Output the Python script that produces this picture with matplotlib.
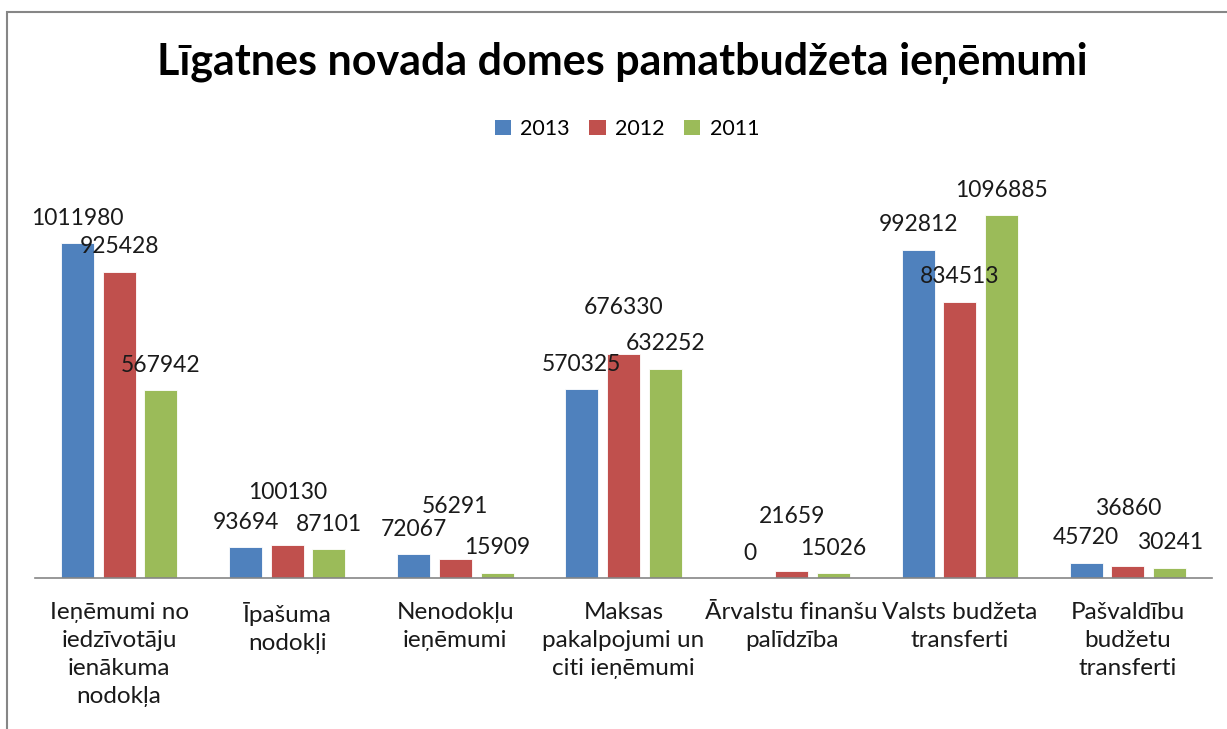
import matplotlib
matplotlib.use("Agg")
import matplotlib.pyplot as plt
from matplotlib.patches import Rectangle, Patch
import numpy as np

plt.rcParams['font.family'] = ['Lato', 'DejaVu Sans']

categories = [
    "Ieņēmumi no\niedzīvotāju\nienākuma\nnodokļa",
    "Īpašuma\nnodokļi",
    "Nenodokļu\nieņēmumi",
    "Maksas\npakalpojumi un\nciti ieņēmumi",
    "Ārvalstu finanšu\npalīdzība",
    "Valsts budžeta\ntransferti",
    "Pašvaldību\nbudžetu\ntransferti",
]
series_names = ["2013", "2012", "2011"]
values_2013 = [1011980, 93694, 72067, 570325, 0, 992812, 45720]
values_2012 = [925428, 100130, 56291, 676330, 21659, 834513, 36860]
values_2011 = [567942, 87101, 15909, 632252, 15026, 1096885, 30241]
title = "Līgatnes novada domes pamatbudžeta ieņēmumi"

series = [values_2013, values_2012, values_2011]
colors = ["#4F81BD", "#C0504D", "#9BBB59"]

# label vertical offsets in points (style only)
base_off = 18
extra_off = {(1, 1): 20, (1, 2): 20, (1, 3): 16, (1, 4): 21, (1, 6): 23}

fig = plt.figure(figsize=(12.27, 7.29), dpi=100)
fig.patch.set_facecolor("white")

# chart border
fig.add_artist(Rectangle((7/1227, -0.1), 1.2, 1 - 12/729 + 0.1, transform=fig.transFigure,
                         fill=False, edgecolor="#868686", linewidth=1.5))

ax = fig.add_axes([35/1227, 1 - 578/729, (1212-35)/1227, 397/729])
x = np.arange(len(categories))
bw = 0.196
step = 0.248
for i, (vals, col, name) in enumerate(zip(series, colors, series_names)):
    pos = x + (i - 1) * step
    ax.bar(pos, vals, width=bw, color=col, edgecolor="white", linewidth=0.6, label=name)
    for j, (px, v) in enumerate(zip(pos, vals)):
        off = base_off + extra_off.get((i, j), 0)
        ax.annotate(str(v), (px, v), xytext=(0, off), textcoords="offset points",
                    ha="center", va="center", fontsize=16.5, color="#1a1a1a")

ax.set_xlim(-0.5, len(categories) - 0.5)
ax.set_ylim(0, 1200000)
for s in ["top", "right", "left"]:
    ax.spines[s].set_visible(False)
ax.spines["bottom"].set_color("#868686")
ax.spines["bottom"].set_linewidth(1.2)
ax.set_yticks([])
ax.set_xticks(x)
ax.set_xticklabels(categories, fontsize=17.5, color="#1a1a1a", linespacing=1.42)
ax.tick_params(axis="x", length=0, pad=17)

fig.text(622/1227, 1 - 63/729, title, ha="center", va="center",
         fontsize=31, fontweight="bold", color="black")

handles = [Patch(facecolor=c, edgecolor="none") for c in colors]
fig.legend(handles, series_names, loc="center", bbox_to_anchor=(627/1227, 1 - 129/729),
           ncol=3, frameon=False, fontsize=15.5, handlelength=0.75, handleheight=0.75,
           handletextpad=0.45, columnspacing=0.9)

fig.savefig("out.png", dpi=100)
